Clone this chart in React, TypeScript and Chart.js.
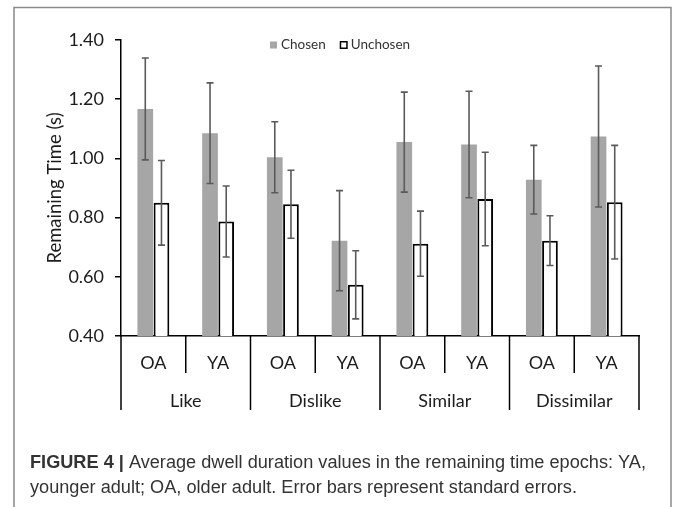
import React, { useEffect, useRef } from 'react';
import { Chart, registerables } from 'chart.js';

Chart.register(...registerables);

// ---- data ----
const subgroups = ['OA', 'YA', 'OA', 'YA', 'OA', 'YA', 'OA', 'YA'];
const groups = ['Like', 'Dislike', 'Similar', 'Dissimilar'];
const seriesNames = ['Chosen', 'Unchosen'];
const chosen = [1.167, 1.085, 1.004, 0.722, 1.055, 1.047, 0.928, 1.074];
const chosenErr = [0.172, 0.170, 0.120, 0.169, 0.169, 0.180, 0.116, 0.238];
const unchosen = [0.850, 0.787, 0.845, 0.573, 0.712, 0.863, 0.722, 0.852];
const unchosenErr = [0.143, 0.120, 0.115, 0.115, 0.110, 0.158, 0.084, 0.192];
const yMin = 0.4;
const yMax = 1.4;
const yStep = 0.2;
const yTitle = 'Remaining Time (s)';
const captionBold = 'FIGURE 4 |';
const captionLine1 = ' Average dwell duration values in the remaining time epochs: YA,';
const captionLine2 = 'younger adult; OA, older adult. Error bars represent standard errors.';

const errors = [chosenErr, unchosenErr];
const FONT = 'Lato, "Open Sans", sans-serif';
const TEXT = '#1c1c1c';

const errorBarPlugin = {
  id: 'errorBars',
  afterDatasetsDraw(chart: any) {
    const ctx = chart.ctx;
    const y = chart.scales.y;
    ctx.save();
    ctx.strokeStyle = '#5a5a5a';
    ctx.lineWidth = 1.6;
    chart.data.datasets.forEach((ds: any, di: number) => {
      const meta = chart.getDatasetMeta(di);
      meta.data.forEach((el: any, i: number) => {
        const v = ds.data[i];
        const e = errors[di][i];
        const yt = y.getPixelForValue(v + e);
        const yb = y.getPixelForValue(v - e);
        const x = el.x;
        const cap = 3.5;
        ctx.beginPath();
        ctx.moveTo(x, yt);
        ctx.lineTo(x, yb);
        ctx.moveTo(x - cap, yt);
        ctx.lineTo(x + cap, yt);
        ctx.moveTo(x - cap, yb);
        ctx.lineTo(x + cap, yb);
        ctx.stroke();
      });
    });
    ctx.restore();
  },
};

const groupAxisPlugin = {
  id: 'groupAxis',
  afterDraw(chart: any) {
    const ctx = chart.ctx;
    const x = chart.scales.x;
    const base = chart.chartArea.bottom;
    const c0 = x.getPixelForValue(0);
    const c1 = x.getPixelForValue(1);
    const half = (c1 - c0) / 2;
    const bounds: number[] = [];
    for (let i = 0; i <= subgroups.length; i++) {
      bounds.push(x.getPixelForValue(Math.min(i, subgroups.length - 1)) + (i === subgroups.length ? half : -half));
    }
    ctx.save();
    ctx.strokeStyle = '#000';
    ctx.lineWidth = 1.5;
    bounds.forEach((bx, i) => {
      const isGroup = i % 2 === 0;
      ctx.beginPath();
      ctx.moveTo(bx, base);
      ctx.lineTo(bx, base + (isGroup ? 74 : 37));
      ctx.stroke();
    });
    ctx.fillStyle = TEXT;
    ctx.font = `18px ${FONT}`;
    ctx.textAlign = 'center';
    ctx.textBaseline = 'middle';
    groups.forEach((g, gi) => {
      const cx = (bounds[gi * 2] + bounds[gi * 2 + 2]) / 2;
      ctx.fillText(g, cx, base + 65);
    });
    ctx.restore();
  },
};

const legendPlugin = {
  id: 'customLegend',
  afterDraw(chart: any) {
    const ctx = chart.ctx;
    const top = chart.chartArea.top;
    const yc = top + 5;
    ctx.save();
    ctx.font = `13.5px ${FONT}`;
    ctx.textBaseline = 'middle';
    ctx.textAlign = 'left';
    let xPos = 270;
    chart.data.datasets.forEach((ds: any, i: number) => {
      if (i === 0) {
        ctx.fillStyle = ds.backgroundColor;
        ctx.fillRect(xPos, yc - 3.5, 7, 7);
      } else {
        ctx.fillStyle = '#fff';
        ctx.fillRect(xPos, yc - 4, 8, 8);
        ctx.strokeStyle = '#000';
        ctx.lineWidth = 1.5;
        ctx.strokeRect(xPos + 0.75, yc - 3.25, 6.5, 6.5);
      }
      ctx.fillStyle = '#333';
      ctx.fillText(ds.label, xPos + 11, yc);
      xPos += 11 + ctx.measureText(ds.label).width + 14;
    });
    ctx.restore();
  },
};

const framePlugin = {
  id: 'frameCaption',
  afterDraw(chart: any) {
    const ctx = chart.ctx;
    ctx.save();
    ctx.strokeStyle = '#8a8a8a';
    ctx.lineWidth = 1.5;
    ctx.strokeRect(14, 7.5, 657, 560);
    // caption
    const boldFont = 'bold 17.5px "Liberation Sans", Arial, sans-serif';
    const normFont = '17.5px "Liberation Sans", Arial, sans-serif';
    ctx.font = boldFont;
    const wb = ctx.measureText(captionBold).width;
    ctx.font = normFont;
    const w1 = ctx.measureText(captionLine1).width;
    const target = 616;
    const sx = target / (wb + w1);
    ctx.fillStyle = '#333';
    ctx.textBaseline = 'middle';
    ctx.textAlign = 'left';
    ctx.translate(30, 0);
    ctx.scale(sx, 1);
    ctx.font = boldFont;
    ctx.fillText(captionBold, 0, 463);
    ctx.font = normFont;
    ctx.fillText(captionLine1, wb, 463);
    ctx.fillText(captionLine2, 0, 488);
    ctx.restore();
  },
};

export default function App() {
  const ref = useRef<HTMLCanvasElement>(null);
  useEffect(() => {
    if (!ref.current) return;
    const chart = new Chart(ref.current, {
      type: 'bar',
      data: {
        labels: subgroups,
        datasets: [
          {
            label: seriesNames[0],
            data: chosen,
            backgroundColor: '#a6a6a6',
            borderWidth: 0,
            categoryPercentage: 0.5,
            barPercentage: 0.97,
          },
          {
            label: seriesNames[1],
            data: unchosen,
            backgroundColor: '#ffffff',
            borderColor: '#000000',
            borderWidth: 2,
            borderSkipped: false,
            categoryPercentage: 0.5,
            barPercentage: 0.97,
          },
        ],
      },
      options: {
        responsive: false,
        animation: false,
        devicePixelRatio: 1,
        events: [],
        layout: { padding: { left: 40, top: 40, right: 36, bottom: 0 } },
        plugins: {
          legend: { display: false },
          tooltip: { enabled: false },
        },
        scales: {
          x: {
            type: 'category',
            grid: { display: false, drawTicks: false },
            border: { display: true, color: '#000', width: 1.5 },
            ticks: { padding: 16, color: TEXT, font: { family: FONT, size: 18 } },
            afterFit(scale: any) {
              scale.height = 171;
            },
          },
          y: {
            min: yMin,
            max: yMax,
            ticks: {
              stepSize: yStep,
              padding: 11,
              color: TEXT,
              font: { family: FONT, size: 18 },
              callback: (v: any) => Number(v).toFixed(2),
            },
            grid: {
              display: true,
              drawOnChartArea: false,
              drawTicks: true,
              tickLength: 6,
              color: '#000',
              lineWidth: 1.5,
            },
            border: { display: true, color: '#000', width: 1.5 },
            title: {
              display: true,
              text: yTitle,
              color: TEXT,
              font: { family: FONT, size: 18.5 },
              padding: { top: 4, bottom: 4 },
            },
            afterFit(scale: any) {
              scale.width = 81;
            },
          },
        },
      },
      plugins: [errorBarPlugin, groupAxisPlugin, legendPlugin, framePlugin],
    } as any);
    return () => chart.destroy();
  }, []);
  return (
    <div style={{ position: 'fixed', left: 0, top: 0, width: 675, height: 507, background: '#fff' }}>
      <canvas ref={ref} width={675} height={507} style={{ width: 675, height: 507, display: 'block' }} />
    </div>
  );
}
